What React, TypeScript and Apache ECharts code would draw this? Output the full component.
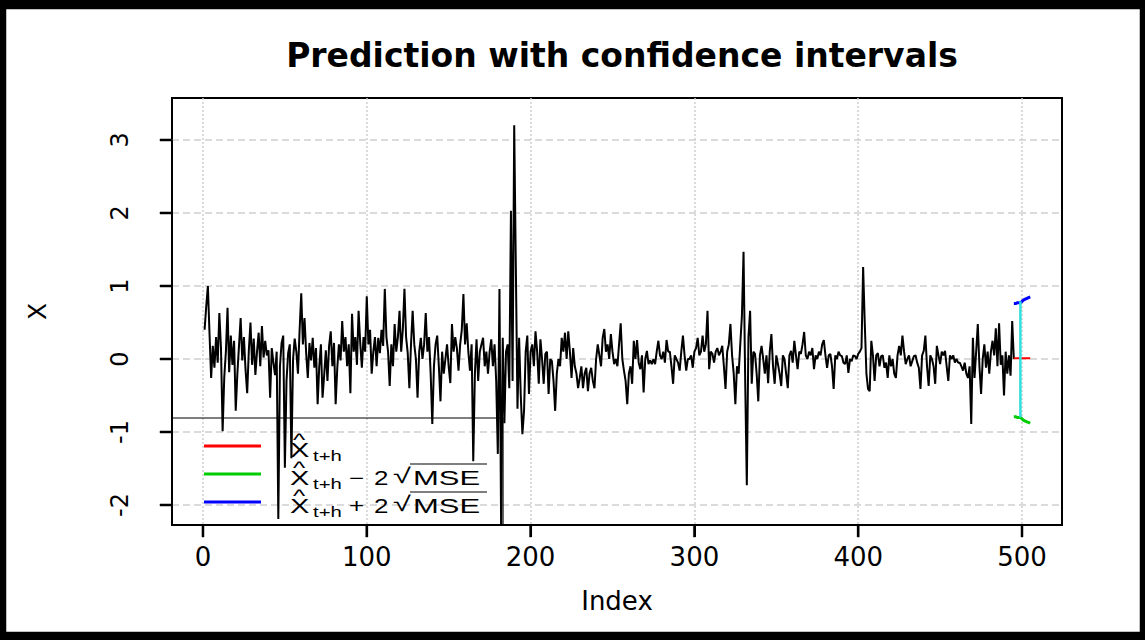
import React, { useEffect, useRef } from "react";
import * as echarts from "echarts";

const titleText = "Prediction with confidence intervals";
const xTicks = [0, 100, 200, 300, 400, 500];
const yTicks = [-2, -1, 0, 1, 2, 3];
const xRange = [-18.9, 524.4];
const yRange = [-2.274, 3.575];

// observed series, index 1..495
const seriesValues = [
  0.40, 0.72, 1.00, 0.35, -0.26, 0.18, -0.12, 0.30, -0.05, 0.63,
  0.15, -0.99, -0.25, 0.10, 0.70, -0.18, 0.32, -0.08, 0.25, -0.71,
  -0.20, 0.18, 0.56, -0.02, 0.30, -0.15, -0.47, 0.12, 0.50, -0.08,
  0.28, -0.22, 0.10, 0.36, -0.10, 0.45, 0.02, 0.25, 0.05, 0.12,
  -0.53, 0.15, -0.05, -0.22, 0.10, -2.19, -0.10, 0.22, 0.32, -1.49,
  -0.30, 0.08, 0.20, -1.36, 0.00, 0.28, 0.10, -0.20, 0.40, 0.90,
  0.20, 0.56, 0.08, -0.26, 0.22, -0.02, 0.29, -0.12, 0.15, -0.62,
  -0.10, 0.20, -0.53, -0.22, 0.12, -0.30, 0.18, 0.38, -0.10, 0.22,
  -0.62, -0.12, 0.20, -0.02, 0.52, 0.10, 0.30, -0.10, 0.20, -0.47,
  0.62, 0.10, 0.30, -0.08, 0.66, 0.22, -0.12, 0.30, 0.10, 0.86,
  0.20, 0.40, -0.20, 0.10, 0.30, -0.10, 0.29, 0.08, 0.40, 0.18,
  0.96, 0.30, 0.10, -0.37, 0.20, -0.10, 0.48, 0.10, 0.30, 0.66,
  0.10, 0.40, 0.96, 0.30, 0.08, -0.40, 0.20, 0.66, 0.20, 0.00,
  -0.53, 0.10, 0.29, 0.00, 0.20, 0.63, 0.10, 0.30, -0.20, -0.89,
  -0.10, 0.20, 0.32, -0.10, -0.58, 0.10, -0.20, 0.00, 0.20, -0.10,
  -0.33, 0.48, 0.10, 0.30, 0.15, -0.16, 0.20, 0.40, 0.89, 0.20,
  0.49, 0.10, -0.16, 0.20, -1.40, -0.20, 0.27, -0.30, 0.10, 0.20,
  0.29, -0.10, 0.10, -0.20, 0.10, 0.27, -0.10, 0.20, -0.30, -1.30,
  0.96, -2.27, 0.29, -0.88, 0.10, 0.20, -0.40, 2.03, -0.30, 3.20,
  1.25, -0.68, 0.29, -0.50, -1.03, -0.71, 0.10, 0.32, -0.48, 0.10,
  0.20, -0.10, 0.38, 0.10, -0.34, 0.27, 0.00, -0.34, 0.07, 0.10,
  -0.48, 0.00, -0.03, -0.30, -0.71, -0.20, 0.00, -0.10, 0.29, 0.10,
  0.36, 0.00, 0.38, 0.10, -0.26, 0.15, -0.10, -0.20, -0.40, -0.26,
  -0.10, -0.40, -0.20, -0.12, -0.44, -0.20, -0.12, -0.30, -0.40, 0.00,
  0.20, 0.05, -0.10, 0.29, 0.41, 0.10, 0.20, 0.00, 0.34, 0.10,
  -0.07, 0.00, -0.10, 0.20, 0.49, 0.00, -0.16, -0.30, -0.62, -0.20,
  -0.10, -0.34, 0.25, 0.00, 0.26, -0.05, -0.14, 0.05, -0.46, 0.00,
  0.11, -0.07, -0.02, -0.07, 0.00, -0.07, 0.10, 0.25, 0.05, 0.00,
  0.10, -0.05, 0.26, 0.10, 0.10, -0.10, -0.34, 0.05, 0.00, -0.05,
  -0.16, 0.10, 0.32, 0.05, -0.16, 0.00, 0.00, 0.05, -0.12, 0.10,
  0.15, 0.29, 0.05, 0.10, 0.32, 0.10, 0.20, 0.66, -0.14, 0.10,
  0.07, -0.05, 0.10, 0.15, 0.05, 0.10, 0.18, -0.10, -0.41, 0.10,
  0.20, 0.48, 0.05, -0.20, -0.62, -0.10, -0.20, 0.20, 0.59, 1.47,
  -0.30, -1.73, 0.30, 0.66, -0.34, 0.10, 0.07, -0.20, -0.58, 0.05,
  0.18, 0.00, -0.20, 0.05, -0.33, 0.10, 0.34, -0.10, -0.34, 0.05,
  -0.07, -0.20, -0.37, 0.05, 0.00, -0.20, -0.40, 0.05, 0.11, -0.05,
  0.25, 0.05, -0.14, 0.10, 0.07, 0.20, 0.37, 0.05, 0.00, 0.10,
  0.05, 0.15, -0.14, 0.05, 0.00, 0.10, 0.05, 0.20, 0.26, 0.05,
  -0.12, 0.05, 0.07, -0.10, -0.41, 0.05, 0.00, 0.10, 0.05, 0.04,
  -0.05, -0.07, 0.05, -0.19, 0.00, -0.03, 0.05, 0.04, 0.00, 0.07,
  0.10, 0.15, 1.26, 0.49, -0.20, -0.41, -0.44, 0.25, 0.05, -0.30,
  0.05, 0.08, -0.10, 0.04, 0.05, -0.12, -0.05, -0.26, 0.05, -0.10,
  0.00, -0.20, -0.26, 0.05, 0.18, 0.05, 0.32, 0.10, -0.07, 0.00,
  0.05, -0.10, -0.03, 0.04, 0.05, -0.05, -0.12, -0.41, 0.05, 0.11,
  0.32, -0.10, -0.37, 0.05, 0.00, -0.10, -0.34, 0.18, 0.05, -0.07,
  0.10, 0.05, 0.11, -0.10, -0.30, 0.05, 0.00, 0.05, -0.05, 0.00,
  -0.05, -0.05, -0.10, -0.16, -0.05, -0.20, -0.26, -0.10, -0.89, 0.29,
  -0.26, 0.10, 0.48, -0.10, -0.48, 0.00, 0.20, -0.12, 0.10, -0.20,
  0.10, 0.25, 0.05, 0.42, -0.10, 0.49, -0.08, 0.05, -0.50, 0.10,
  -0.20, 0.05, -0.23, 0.52, 0.00,
];

// forecast horizon
const forecastIndex = [495, 496, 497, 498, 499, 500, 501, 502, 503, 504, 505];
const predValues = [0.01, 0.01, 0.01, 0.01, 0.01, 0.01, 0.01, 0.01, 0.01, 0.01, 0.01];
const upperValues = [0.76, 0.76, 0.77, 0.77, 0.77, 0.79, 0.81, 0.82, 0.83, 0.84, 0.85];
const lowerValues = [-0.79, -0.79, -0.8, -0.8, -0.8, -0.82, -0.84, -0.85, -0.86, -0.87, -0.88];
const intervalIndex = 499;
const intervalValues = [-0.8, 0.79];

const AX_FONT = "DejaVu Sans";
const LG_FONT = "Liberation Sans";

// plot box in pixels
const PL = 172, PT = 98, PW = 890, PH = 427;
const TICK_LEN = 12;

function txt(text: string, x: number, y: number, size: number, sx: number) {
  return {
    type: "text",
    x,
    y,
    scaleX: sx,
    silent: true,
    z: 50,
    style: {
      text,
      fontFamily: LG_FONT,
      fontSize: size,
      fill: "#000",
      align: "left",
      verticalAlign: "middle",
      textAlign: "left",
      textVerticalAlign: "middle",
    },
  };
}

function blackRect(x: number, y: number, w: number, h: number) {
  return {
    type: "rect",
    shape: { x, y, width: w, height: h },
    style: { fill: "#000", stroke: "#000", lineWidth: 0.5 },
    silent: true,
    z: 100,
  };
}

function buildLegend() {
  const els: any[] = [];
  els.push({
    type: "rect",
    shape: { x: 172, y: 418, width: 331, height: 107 },
    style: { fill: "rgba(0,0,0,0)", stroke: "#000", lineWidth: 1.2 },
    silent: true,
    z: 40,
  });
  const colors = ["#ff0000", "#00cd00", "#0000ff"];
  for (let r = 0; r < 3; r++) {
    const ly = 446 + 28 * r;
    els.push({
      type: "line",
      shape: { x1: 204, y1: ly, x2: 261, y2: ly },
      style: { stroke: colors[r], lineWidth: 3 },
      silent: true,
      z: 40,
    });
    const B = 457 + 28 * r;
    const yc = B - 7.2;
    els.push(txt("X", 290, yc, 20, 1.45));
    els.push(txt("^", 293, B - 17.5, 18, 1.45));
    els.push(txt("t+h", 313, B - 0.8, 14, 1.45));
    if (r > 0) {
      els.push(txt(r === 1 ? "\u2212" : "+", 349, yc, 20, 1.3));
      els.push(txt("2", 374, yc, 20, 1.3));
      els.push(txt("\u221A", 393, B - 8.8, 21, 1.55));
      els.push(txt("MSE", 413, yc, 20, 1.55));
      els.push({
        type: "line",
        shape: { x1: 410, y1: B - 21, x2: 487, y2: B - 21 },
        style: { stroke: "#000", lineWidth: 1.2 },
        silent: true,
        z: 50,
      });
    }
  }
  return els;
}

function buildFrame() {
  return [blackRect(0, 0, 1145, 9), blackRect(0, 0, 6, 640), blackRect(0, 632, 1145, 8), blackRect(1140, 0, 5, 640)];
}

function buildTicks() {
  const xSpan = xRange[1] - xRange[0];
  const ySpan = yRange[1] - yRange[0];
  const els: any[] = [];
  xTicks.forEach((v) => {
    const px = PL + ((v - xRange[0]) / xSpan) * PW;
    els.push(blackRect(px - 1, PT + PH, 2, TICK_LEN));
  });
  yTicks.forEach((v) => {
    const py = PT + ((yRange[1] - v) / ySpan) * PH;
    els.push(blackRect(PL - TICK_LEN, py - 1, TICK_LEN, 2));
  });
  return els;
}

export default function App() {
  const ref = useRef<HTMLDivElement>(null);
  useEffect(() => {
    document.body.style.margin = "0";
    if (!ref.current) return;
    const chart = echarts.init(ref.current, undefined, { renderer: "svg" });
    const obs = seriesValues.map((v, i) => [i + 1, v]);
    const pred = forecastIndex.map((x, i) => [x, predValues[i]]);
    const up = forecastIndex.map((x, i) => [x, upperValues[i]]);
    const lo = forecastIndex.map((x, i) => [x, lowerValues[i]]);
    const cyan = intervalValues.map((v) => [intervalIndex, v]);

    const xSpan = xRange[1] - xRange[0];
    const ySpan = yRange[1] - yRange[0];
    const xt0 = xTicks[0], xt1 = xTicks[xTicks.length - 1];
    const yt0 = yTicks[0], yt1 = yTicks[yTicks.length - 1];
    const gxLeft = PL + ((xt0 - xRange[0]) / xSpan) * PW;
    const gxWidth = ((xt1 - xt0) / xSpan) * PW;
    const gyTop = PT + ((yRange[1] - yt1) / ySpan) * PH;
    const gyHeight = ((yt1 - yt0) / ySpan) * PH;

    const gridColor = "#d0d0d0";
    const axisTick = { show: true, inside: false, length: TICK_LEN, lineStyle: { color: "#000", width: 2 } };
    const option: any = {
      animation: false,
      backgroundColor: "#fff",
      title: {
        text: titleText,
        left: 617,
        top: 34,
        textAlign: "center",
        textStyle: { fontFamily: AX_FONT, fontWeight: "bold", fontSize: 33, color: "#000" },
      },
      grid: [
        {
          left: PL, top: PT, width: PW, height: PH,
          show: true, borderColor: "#000", borderWidth: 2,
          backgroundColor: "rgba(0,0,0,0)", containLabel: false,
        },
        { left: gxLeft, top: PT, width: gxWidth, height: PH, containLabel: false },
        { left: PL, top: gyTop, width: PW, height: gyHeight, containLabel: false },
      ],
      xAxis: [
        {
          gridIndex: 0,
          type: "value",
          min: xRange[0],
          max: xRange[1],
          name: "Index",
          nameLocation: "middle",
          nameGap: 63,
          nameTextStyle: { fontFamily: AX_FONT, fontSize: 26, color: "#000" },
          axisLine: { show: false, onZero: false },
          axisTick: { show: false },
          axisLabel: { show: false },
          splitLine: { show: false },
        },
        {
          gridIndex: 1,
          type: "value",
          position: "bottom",
          min: xt0,
          max: xt1,
          interval: xTicks[1] - xTicks[0],
          axisLine: { show: true, onZero: false, lineStyle: { color: "#000", width: 1 } },
          axisTick,
          axisLabel: { margin: 19, fontFamily: AX_FONT, fontSize: 26, color: "#000" },
          splitLine: { show: true, lineStyle: { color: gridColor, type: [2, 2], width: 1.5 } },
        },
        { gridIndex: 2, type: "value", min: 0, max: 1, show: false },
      ],
      yAxis: [
        {
          gridIndex: 0,
          type: "value",
          min: yRange[0],
          max: yRange[1],
          name: "X",
          nameLocation: "middle",
          nameRotate: 90,
          nameGap: 122,
          nameTextStyle: { fontFamily: AX_FONT, fontSize: 25, color: "#000" },
          axisLine: { show: false, onZero: false },
          axisTick: { show: false },
          axisLabel: { show: false },
          splitLine: { show: false },
        },
        { gridIndex: 1, type: "value", min: 0, max: 1, show: false },
        {
          gridIndex: 2,
          type: "value",
          position: "left",
          min: yt0,
          max: yt1,
          interval: yTicks[1] - yTicks[0],
          axisLine: { show: true, onZero: false, lineStyle: { color: "#000", width: 1 } },
          axisTick,
          axisLabel: { rotate: 90, margin: 40, fontFamily: AX_FONT, fontSize: 24, color: "#000" },
          splitLine: { show: true, lineStyle: { color: gridColor, type: [7, 4], width: 1.5 } },
        },
      ],
      series: [
        {
          name: "X",
          type: "line",
          xAxisIndex: 0,
          yAxisIndex: 0,
          data: obs,
          z: 3,
          showSymbol: false,
          symbol: "none",
          lineStyle: { color: "#000", width: 2 },
          silent: true,
        },
        {
          name: "upper",
          type: "line",
          xAxisIndex: 0,
          yAxisIndex: 0,
          data: up,
          z: 4,
          symbol: "none",
          lineStyle: { color: "#0000ff", width: 3 },
          silent: true,
        },
        {
          name: "lower",
          type: "line",
          xAxisIndex: 0,
          yAxisIndex: 0,
          data: lo,
          z: 4,
          symbol: "none",
          lineStyle: { color: "#00cd00", width: 3 },
          silent: true,
        },
        {
          name: "interval",
          type: "line",
          xAxisIndex: 0,
          yAxisIndex: 0,
          data: cyan,
          z: 5,
          symbol: "none",
          lineStyle: { color: "#30e0e0", width: 2.5 },
          silent: true,
        },
        {
          name: "pred",
          type: "line",
          xAxisIndex: 0,
          yAxisIndex: 0,
          data: pred,
          z: 4,
          symbol: "none",
          lineStyle: { color: "#ff0000", width: 2 },
          silent: true,
        },
      ],
      graphic: { elements: [...buildLegend(), ...buildFrame(), ...buildTicks()] },
    };
    chart.setOption(option);
    return () => chart.dispose();
  }, []);
  return <div ref={ref} style={{ width: 1145, height: 640 }} />;
}
